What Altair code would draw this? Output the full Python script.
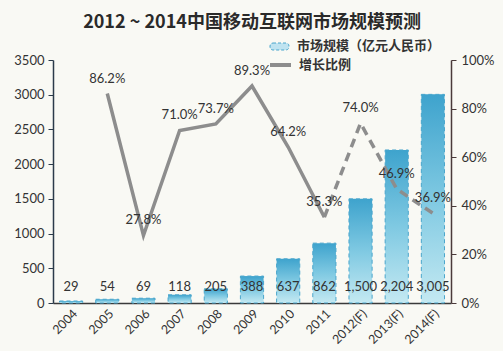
import altair as alt
import pandas as pd

years = ["2004", "2005", "2006", "2007", "2008", "2009", "2010", "2011", "2012(F)", "2013(F)", "2014(F)"]
market = [29, 54, 69, 118, 205, 388, 637, 862, 1500, 2204, 3005]
growth = [None, 86.2, 27.8, 71.0, 73.7, 89.3, 64.2, 35.3, 74.0, 46.9, 36.9]

df = pd.DataFrame({"year": years, "market": market, "growth": growth})
df["idx"] = range(len(years))
df["gfrac"] = df["growth"] / 100
df["glabel"] = df["growth"].map(lambda v: f"{v:.1f}%" if pd.notna(v) else "")
df["mlabel"] = df["market"].map(lambda v: f"{v:,}")

W, H = 398, 243
FONT = "Lato"
CJK = "Noto Sans CJK SC"
TXT = "#333333"

base = alt.Chart(df)

x_enc = alt.X(
    "year:N", sort=years, title=None,
    scale=alt.Scale(paddingInner=0.36, paddingOuter=0.18),
    axis=alt.Axis(labelAngle=-45, labelFontSize=12.5, labelFont=FONT, labelColor=TXT,
                  domainColor="#3a3a3a", domainWidth=1.5, ticks=False, labelPadding=4),
)

y_left = alt.Y(
    "market:Q", title=None,
    scale=alt.Scale(domain=[0, 3500]),
    axis=alt.Axis(values=[0, 500, 1000, 1500, 2000, 2500, 3000, 3500], grid=False, format="d",
                  labelFontSize=13, labelFont=FONT, labelColor=TXT,
                  domainColor="#2b3a4a", domainWidth=1.5, tickColor="#2b3a4a",
                  tickSize=5, labelPadding=4),
)

grad = alt.Gradient(
    gradient="linear", x1=0, x2=0, y1=0, y2=1,
    stops=[alt.GradientStop(color="#3ea3cd", offset=0),
           alt.GradientStop(color="#7fc9e2", offset=0.5),
           alt.GradientStop(color="#c4e9f2", offset=1)],
)

bars = base.mark_bar(color=grad, stroke="#4aa6cc", strokeDash=[4, 3], strokeWidth=1).encode(
    x=x_enc, y=y_left
)

bar_labels = base.mark_text(font=FONT, fontSize=13, color=TXT, baseline="middle").encode(
    x=alt.X("year:N", sort=years),
    y=alt.value(H - 16),
    text="mlabel:N",
)

left_group = alt.layer(bars, bar_labels)

y_right = alt.Y(
    "gfrac:Q", title=None,
    scale=alt.Scale(domain=[0, 1]),
    axis=alt.Axis(orient="right", format=".0%", values=[0, 0.2, 0.4, 0.6, 0.8, 1.0], grid=False,
                  labelFontSize=13, labelFont=FONT, labelColor=TXT,
                  domainColor="#4a3a3a", domainWidth=1.5, tickColor="#4a3a3a",
                  tickSize=5, labelPadding=5),
)

line_solid = base.transform_filter(
    alt.FieldRangePredicate(field="idx", range=[1, 7])
).mark_line(color="#8d8d8d", strokeWidth=3.5).encode(
    x=alt.X("year:N", sort=years), y=y_right
)

line_dash = base.transform_filter(
    alt.FieldRangePredicate(field="idx", range=[7, 10])
).mark_line(color="#8d8d8d", strokeWidth=3.5, strokeDash=[9, 6]).encode(
    x=alt.X("year:N", sort=years), y=y_right
)

g_labels = base.transform_filter(
    alt.FieldRangePredicate(field="idx", range=[1, 10])
).mark_text(font=FONT, fontSize=13, color=TXT, dy=-15, baseline="middle").encode(
    x=alt.X("year:N", sort=years), y=y_right, text="glabel:N"
)

right_group = alt.layer(line_solid, line_dash, g_labels)

# legend
leg = pd.DataFrame({"k": [0]})
leg_bar = alt.Chart(leg).mark_rect(color="#bfe3f0", stroke="#4aa6cc", strokeDash=[3, 2],
                                   cornerRadius=3).encode(
    x=alt.value(217), x2=alt.value(236), y=alt.value(-17), y2=alt.value(-10)
)
leg_line = alt.Chart(leg).mark_rule(color="#8d8d8d", strokeWidth=4).encode(
    x=alt.value(217), x2=alt.value(238), y=alt.value(5)
)
leg_t1 = alt.Chart(leg).mark_text(font=CJK, fontSize=13, fontWeight="bold", color=TXT,
                                  align="left", baseline="middle",
                                  text="市场规模（亿元人民币）").encode(
    x=alt.value(244), y=alt.value(-14)
)
leg_t2 = alt.Chart(leg).mark_text(font=CJK, fontSize=13, fontWeight="bold", color=TXT,
                                  align="left", baseline="middle", text="增长比例").encode(
    x=alt.value(246), y=alt.value(5)
)

chart = alt.layer(left_group, right_group, leg_bar, leg_line, leg_t1, leg_t2).resolve_scale(
    y="independent"
).properties(
    width=W, height=H,
    autosize=alt.AutoSizeParams(type="none"),
    padding={"left": 53, "top": 60, "right": 52, "bottom": 48},
    background="#f9f9f4",
    title=alt.TitleParams("2012 ~ 2014中国移动互联网市场规模预测", font=CJK, fontSize=18,
                          fontWeight="bold", color="#2a2a2a", offset=8, anchor="middle"),
).configure_view(stroke=None)

chart.save("out.html", embed_options={"renderer": "svg", "actions": False})
